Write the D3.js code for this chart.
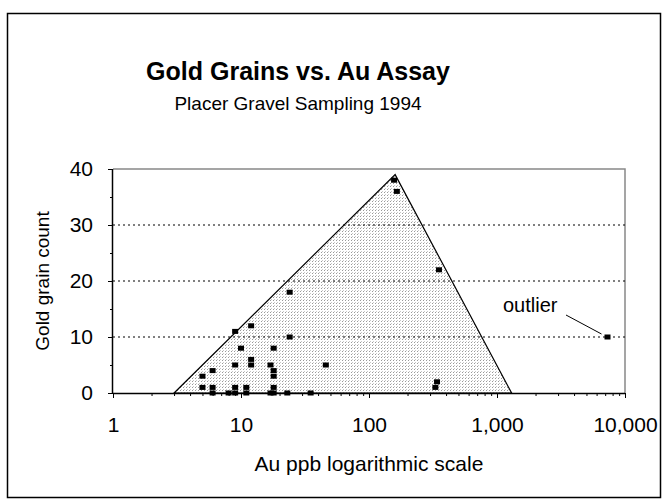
<!DOCTYPE html>
<html>
<head>
<meta charset="utf-8">
<script src="https://cdn.jsdelivr.net/npm/d3@7"></script>
<style>
  body { margin: 0; background: #fff; }
  text { font-family: Arial, "Liberation Sans", sans-serif; fill: #000; }
</style>
</head>
<body>
<svg id="chart" width="667" height="500"></svg>
<script>
// samples: Au assay (ppb) and gold grain count
const auPpb = [5, 5, 6, 6, 6, 8, 9, 9, 9, 9, 10, 11, 11, 12, 12, 12,
  17, 18, 17, 18, 18, 18, 18, 23, 24, 24, 35, 46, 157, 165, 330, 340, 352, 7300];
const grainCount = [3, 1, 4, 1, 0, 0, 0, 1, 5, 11, 8, 1, 0, 12, 6, 5,
  0, 0, 5, 8, 4, 3, 1, 0, 18, 10, 0, 5, 38, 36, 1, 2, 22, 10];

// shaded envelope (triangle)
const envelopeAu = [3, 160, 1300];
const envelopeCount = [0, 39, 0];

const xTickValues = [1, 10, 100, 1000, 10000];
const yTickValues = [0, 10, 20, 30, 40];
const yMinorValues = [5, 15, 25, 35];

const plotLeft = 113, plotRight = 625, plotTop = 169, plotBottom = 393;
const font = 'Arial, "Liberation Sans", sans-serif';

const svg = d3.select('#chart');

// outer frame
svg.append('rect')
  .attr('x', 7.5).attr('y', 13.5)
  .attr('width', 653).attr('height', 484)
  .attr('fill', 'none').attr('stroke', '#000').attr('stroke-width', 1.5);

svg.append('text')
  .text('Gold Grains vs. Au Assay')
  .attr('x', 298).attr('y', 80)
  .attr('text-anchor', 'middle')
  .attr('font-size', 25).attr('font-weight', 'bold');

svg.append('text')
  .text('Placer Gravel Sampling 1994')
  .attr('x', 298).attr('y', 110)
  .attr('text-anchor', 'middle')
  .attr('font-size', 19);

const xscale = d3.scaleLog()
  .domain([1, 10000])
  .range([plotLeft, plotRight]);

const yscale = d3.scaleLinear()
  .domain([0, 40])
  .range([plotBottom, plotTop]);

// stipple pattern for the envelope
const defs = svg.append('defs');
const pat = defs.append('pattern')
  .attr('id', 'stipple')
  .attr('patternUnits', 'userSpaceOnUse')
  .attr('width', 3).attr('height', 3);
pat.append('rect').attr('width', 3).attr('height', 3).attr('fill', '#fff');
pat.append('rect').attr('x', 0).attr('y', 0).attr('width', 1).attr('height', 1).attr('fill', '#999');
pat.append('rect').attr('x', 1).attr('y', 2).attr('width', 1).attr('height', 1).attr('fill', '#c8c8c8');

// plot border (top and right in gray)
svg.append('path')
  .attr('d', `M${plotLeft},${plotTop}H${plotRight}V${plotBottom}`)
  .attr('fill', 'none').attr('stroke', '#888').attr('stroke-width', 1.5);

// envelope
const envelope = envelopeAu.map((d, i) => [xscale(d), yscale(envelopeCount[i])]);
svg.append('path')
  .attr('d', d3.line()(envelope) + 'Z')
  .attr('fill', 'url(#stipple)')
  .attr('stroke', '#000').attr('stroke-width', 1.2);

// horizontal dotted gridlines
svg.append('g')
  .selectAll('line')
  .data(yTickValues.filter((d) => d > 0 && d < 40))
  .enter()
  .append('line')
  .attr('x1', plotLeft).attr('x2', plotRight)
  .attr('y1', (d) => yscale(d)).attr('y2', (d) => yscale(d))
  .attr('stroke', '#000').attr('stroke-width', 1)
  .attr('stroke-dasharray', '2,3');

// x axis
const xMinor = [];
for (let e = 0; e < 4; e++) {
  for (let m = 2; m < 10; m++) xMinor.push(m * Math.pow(10, e));
}
svg.append('g')
  .attr('transform', `translate(0, ${plotBottom})`)
  .call(d3.axisBottom(xscale).tickValues(xMinor).tickSize(3).tickFormat(''))
  .call((g) => g.select('.domain').remove());

const bottomAxis = d3.axisBottom(xscale)
  .tickValues(xTickValues)
  .tickSize(5)
  .tickPadding(19)
  .tickFormat(d3.format(','));
svg.append('g')
  .attr('transform', `translate(0, ${plotBottom})`)
  .call(bottomAxis)
  .call((g) => g.selectAll('text').attr('font-size', 21).attr('font-family', font))
  .call((g) => g.select('.domain').attr('d', `M${plotLeft},0.5H${plotRight}`).attr('stroke-width', 1.5));

// y axis
svg.append('g')
  .attr('transform', `translate(${plotLeft}, 0)`)
  .call(d3.axisLeft(yscale).tickValues(yMinorValues).tickSize(3).tickFormat(''))
  .call((g) => g.select('.domain').remove());

const leftAxis = d3.axisLeft(yscale)
  .tickValues(yTickValues)
  .tickSize(5)
  .tickPadding(15);
svg.append('g')
  .attr('transform', `translate(${plotLeft}, 0)`)
  .call(leftAxis)
  .call((g) => g.selectAll('text').attr('font-size', 21).attr('font-family', font))
  .call((g) => g.select('.domain').attr('d', `M-0.5,${plotBottom}V${plotTop}`).attr('stroke-width', 1.5));

// axis titles
svg.append('text')
  .text('Au ppb logarithmic scale')
  .attr('x', (plotLeft + plotRight) / 2).attr('y', 471)
  .attr('text-anchor', 'middle')
  .attr('font-size', 21);

svg.append('text')
  .text('Gold grain count')
  .attr('transform', `translate(49, ${(plotTop + plotBottom) / 2}) rotate(-90)`)
  .attr('text-anchor', 'middle')
  .attr('font-size', 19);

// sample marks
svg.append('g')
  .selectAll('rect')
  .data(auPpb)
  .enter()
  .append('rect')
  .attr('x', (d) => xscale(d) - 3)
  .attr('y', (d, i) => yscale(grainCount[i]) - 2.5)
  .attr('width', 6)
  .attr('height', 5)
  .attr('fill', '#000');

// outlier annotation
const outlierIdx = auPpb.length - 1;
svg.append('text')
  .text('outlier')
  .attr('x', 503).attr('y', 312)
  .attr('font-size', 20);
svg.append('line')
  .attr('x1', 566).attr('y1', 315)
  .attr('x2', xscale(auPpb[outlierIdx]) - 6).attr('y2', yscale(grainCount[outlierIdx]) - 3)
  .attr('stroke', '#000').attr('stroke-width', 1);
</script>
</body>
</html>
